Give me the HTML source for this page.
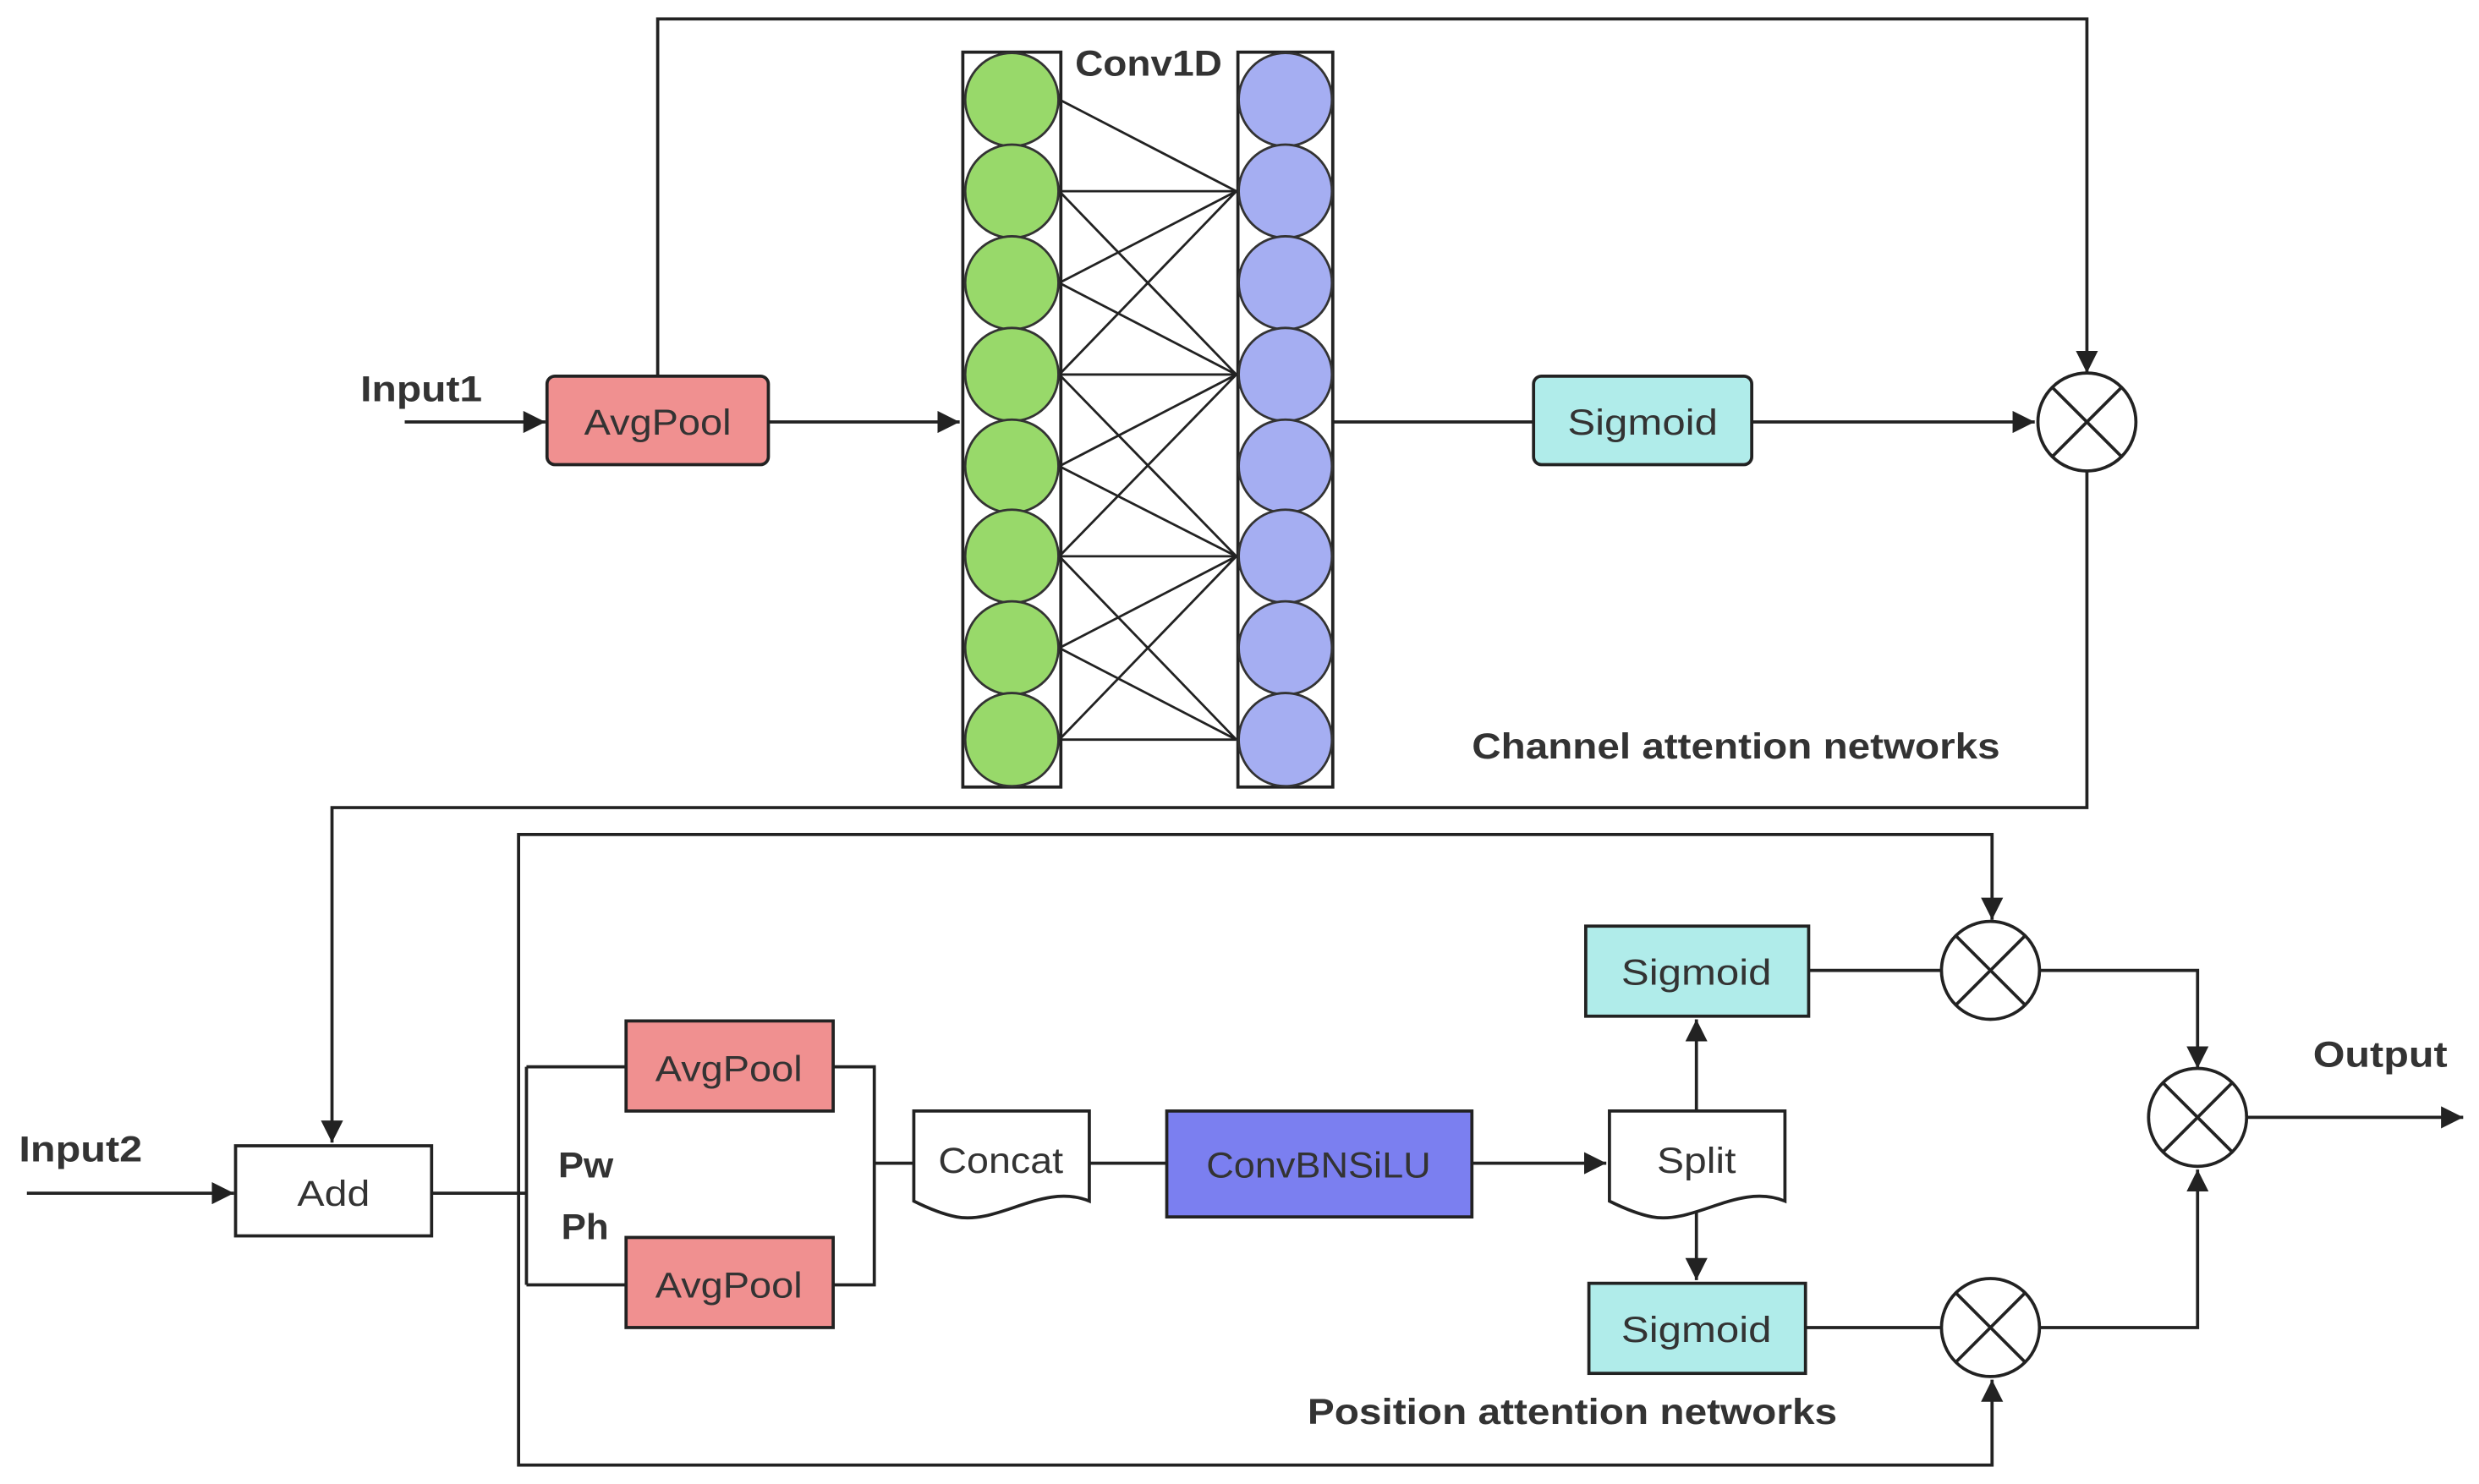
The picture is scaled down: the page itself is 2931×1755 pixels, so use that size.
<!DOCTYPE html>
<html><head><meta charset="utf-8"><style>
html,body{margin:0;padding:0;background:#fff;}
svg{display:block;}
text{font-family:"Liberation Sans",sans-serif;}
.b{font-weight:bold;font-size:23px;fill:#333;}
.t{font-size:23px;fill:#333;text-anchor:middle;}
</style></head><body>
<svg width="2931" height="1755" viewBox="0 0 1568 939" preserveAspectRatio="none" xmlns="http://www.w3.org/2000/svg">
<defs>
<marker id="A" viewBox="0 0 10 10" refX="10" refY="5" markerWidth="14" markerHeight="14" markerUnits="userSpaceOnUse" orient="auto"><path d="M0,0L10,5L0,10z" fill="#222"/></marker></defs>
<g stroke="#222" stroke-width="2" fill="none">
<path d="M416,238V12H1320V236" marker-end="url(#A)"/>
<path d="M256,267H345" marker-end="url(#A)"/>
<path d="M486,267H607" marker-end="url(#A)"/>
<path d="M843,267H970"/>
<path d="M1108,267H1287" marker-end="url(#A)"/>
<path d="M1320,298V511H210V723" marker-end="url(#A)"/>
<path d="M17,755H148" marker-end="url(#A)"/>
<path d="M273,755H333"/>
<path d="M333,675V813M333,675H396M333,813H396"/>
<path d="M527,675H553V813H527M553,736H578"/>
<path d="M689,736H738"/>
<path d="M931,736H1016" marker-end="url(#A)"/>
<path d="M1073,703V645" marker-end="url(#A)"/>
<path d="M1073,762V810" marker-end="url(#A)"/>
<path d="M328,755V927H1260V873" marker-end="url(#A)"/>
<path d="M328,755V528H1260V582" marker-end="url(#A)"/>
<path d="M1144,614H1228M1290,614H1390V676" marker-end="url(#A)"/>
<path d="M1142,840H1228M1290,840H1390V740" marker-end="url(#A)"/>
<path d="M1421,707H1558" marker-end="url(#A)"/>
<path stroke-width="1.5" d="
M670,63L782,121M670,121L782,121M670,179L782,121M670,237L782,121
M670,121L782,237M670,179L782,237M670,237L782,237M670,295L782,237M670,352L782,237
M670,237L782,352M670,295L782,352M670,352L782,352M670,410L782,352M670,468L782,352
M670,352L782,468M670,410L782,468M670,468L782,468"/>
</g>
<rect x="609" y="33" width="62" height="465" fill="none" stroke="#222" stroke-width="2"/>
<rect x="783" y="33" width="60" height="465" fill="none" stroke="#222" stroke-width="2"/>
<g stroke="#333" stroke-width="1.5">
<g fill="#98d96a"><circle cx="640" cy="63" r="29.5"/><circle cx="640" cy="121" r="29.5"/><circle cx="640" cy="179" r="29.5"/><circle cx="640" cy="237" r="29.5"/><circle cx="640" cy="295" r="29.5"/><circle cx="640" cy="352" r="29.5"/><circle cx="640" cy="410" r="29.5"/><circle cx="640" cy="468" r="29.5"/></g>
<g fill="#a5aef2"><circle cx="813" cy="63" r="29.5"/><circle cx="813" cy="121" r="29.5"/><circle cx="813" cy="179" r="29.5"/><circle cx="813" cy="237" r="29.5"/><circle cx="813" cy="295" r="29.5"/><circle cx="813" cy="352" r="29.5"/><circle cx="813" cy="410" r="29.5"/><circle cx="813" cy="468" r="29.5"/></g>
</g>
<g stroke="#222" stroke-width="2">
<rect x="346" y="238" width="140" height="56" rx="5" fill="#f09090"/>
<rect x="970" y="238" width="138" height="56" rx="5" fill="#b0ecea"/>
<rect x="149" y="725" width="124" height="57" fill="#fff"/>
<rect x="396" y="646" width="131" height="57" fill="#f09090"/>
<rect x="396" y="783" width="131" height="57" fill="#f09090"/>
<rect x="738" y="703" width="193" height="67" fill="#7b7ff0"/>
<rect x="1003" y="586" width="141" height="57" fill="#b0ecea"/>
<rect x="1005" y="812" width="137" height="57" fill="#b0ecea"/>
<path d="M578,703H689V760C660,748 632,775 605,770C595,768 586,764 578,760Z" fill="#fff"/>
<path d="M1018,703H1129V760C1100,748 1072,775 1045,770C1035,768 1026,764 1018,760Z" fill="#fff"/>
<g fill="#fff">
<circle cx="1320" cy="267" r="31"/><circle cx="1259" cy="614" r="31"/><circle cx="1259" cy="840" r="31"/><circle cx="1390" cy="707" r="31"/>
</g>
<path d="M1298,245L1342,289M1342,245L1298,289M1237,592L1281,636M1281,592L1237,636M1237,818L1281,862M1281,818L1237,862M1368,685L1412,729M1412,685L1368,729" fill="none"/>
</g>
<text class="b" x="228" y="254" textLength="77" lengthAdjust="spacingAndGlyphs">Input1</text>
<text class="b" x="680" y="48" textLength="93" lengthAdjust="spacingAndGlyphs">Conv1D</text>
<text class="b" x="931" y="480" textLength="334" lengthAdjust="spacingAndGlyphs">Channel attention networks</text>
<text class="b" x="12" y="735" textLength="78" lengthAdjust="spacingAndGlyphs">Input2</text>
<text class="b" x="353" y="745" textLength="35" lengthAdjust="spacingAndGlyphs">Pw</text>
<text class="b" x="355" y="784" textLength="30" lengthAdjust="spacingAndGlyphs">Ph</text>
<text class="b" x="1463" y="675" textLength="85" lengthAdjust="spacingAndGlyphs">Output</text>
<text class="b" x="827" y="901" textLength="335" lengthAdjust="spacingAndGlyphs">Position attention networks</text>
<text class="t" x="416" y="275" textLength="93" lengthAdjust="spacingAndGlyphs">AvgPool</text>
<text class="t" x="1039" y="275" textLength="95" lengthAdjust="spacingAndGlyphs">Sigmoid</text>
<text class="t" x="211" y="763" textLength="46" lengthAdjust="spacingAndGlyphs">Add</text>
<text class="t" x="461" y="684" textLength="93" lengthAdjust="spacingAndGlyphs">AvgPool</text>
<text class="t" x="461" y="821" textLength="93" lengthAdjust="spacingAndGlyphs">AvgPool</text>
<text class="t" x="633" y="742" textLength="79" lengthAdjust="spacingAndGlyphs">Concat</text>
<text class="t" x="834" y="745" textLength="142" lengthAdjust="spacingAndGlyphs">ConvBNSiLU</text>
<text class="t" x="1073" y="742" textLength="50" lengthAdjust="spacingAndGlyphs">Split</text>
<text class="t" x="1073" y="623" textLength="95" lengthAdjust="spacingAndGlyphs">Sigmoid</text>
<text class="t" x="1073" y="849" textLength="95" lengthAdjust="spacingAndGlyphs">Sigmoid</text>
</svg>
</body></html>
